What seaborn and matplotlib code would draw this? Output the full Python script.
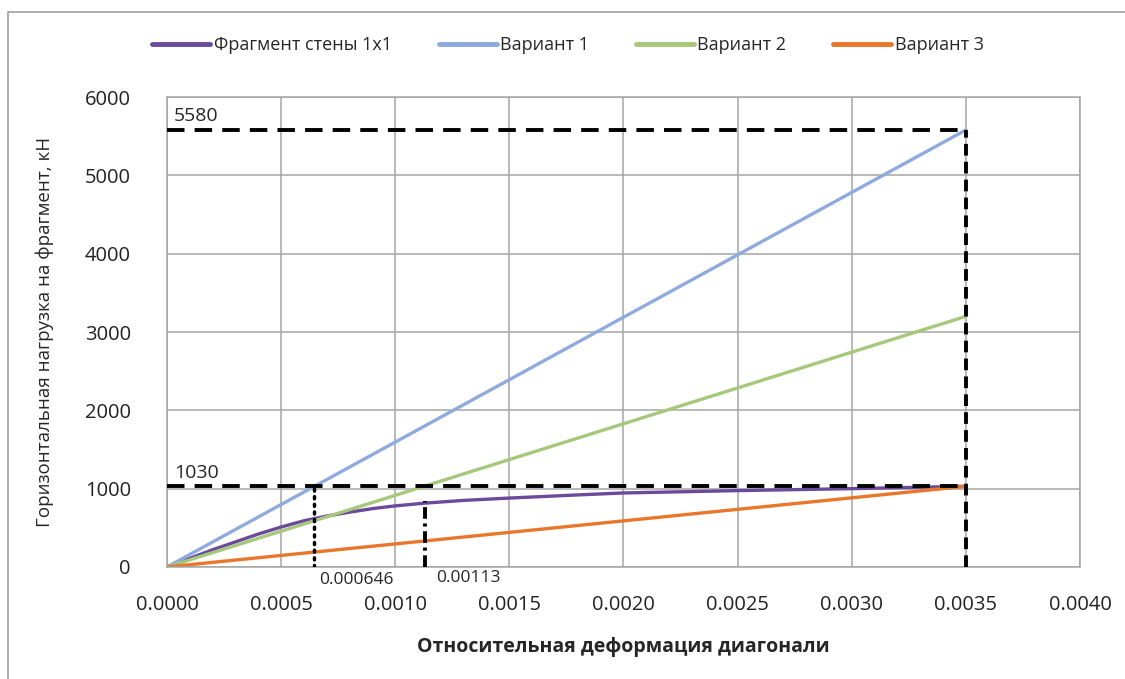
import numpy as np
import pandas as pd
import matplotlib
matplotlib.use("Agg")
import matplotlib.pyplot as plt
import seaborn as sns
from matplotlib.patches import Rectangle

# данные
strain_wall = [0.0, 0.0001, 0.0002, 0.0003, 0.0004, 0.0005, 0.0006, 0.0007, 0.0008,
               0.0009, 0.0010, 0.00113, 0.0013, 0.0015, 0.0018, 0.0020, 0.0025, 0.0030, 0.0035]
load_wall = [0, 110, 220, 320, 420, 510, 590, 650, 700,
             745, 780, 815, 850, 880, 920, 945, 975, 1000, 1030]
strain_var = [0.0, 0.0035]
load_var1 = [0, 5580]
load_var2 = [0, 3200]
load_var3 = [0, 1030]
names = ["Фрагмент стены 1x1", "Вариант 1", "Вариант 2", "Вариант 3"]
colors = ["#6B4A9B", "#8FAADC", "#A5C87A", "#E8762B"]

x_ticks = [0.0, 0.0005, 0.0010, 0.0015, 0.0020, 0.0025, 0.0030, 0.0035, 0.0040]
y_ticks = [0, 1000, 2000, 3000, 4000, 5000, 6000]
x_mark1 = 0.000646
x_mark2 = 0.00113
x_end = 0.0035
y_max_load = 5580
y_wall_load = 1030

frames = [pd.DataFrame({"x": strain_wall, "y": load_wall, "s": names[0]})]
for nm, ld in zip(names[1:], [load_var1, load_var2, load_var3]):
    frames.append(pd.DataFrame({"x": strain_var, "y": ld, "s": nm}))
df = pd.concat(frames, ignore_index=True)

sns.set_style("white")
plt.rcParams["font.family"] = ["Open Sans", "DejaVu Sans"]

fig = plt.figure(figsize=(11.25, 6.79), dpi=100)
ax = fig.add_axes([0.1484, 0.165, 0.8116, 0.692])

sns.lineplot(data=df, x="x", y="y", hue="s", hue_order=names, palette=colors,
             linewidth=2.4, ax=ax, sort=True, estimator=None)

# вспомогательные линии
ax.plot([0, x_end], [y_max_load, y_max_load], color="black", lw=2.8, ls=(0, (4.5, 2.6)), zorder=5)
ax.plot([x_end, x_end], [0, y_max_load], color="black", lw=2.8, ls=(0, (3, 1.6)), zorder=5)
ax.plot([0, x_end], [y_wall_load, y_wall_load], color="black", lw=2.8, ls=(0, (4.5, 2.6)), zorder=5)
ax.plot([x_mark1, x_mark1], [0, y_wall_load], color="black", lw=2.5, ls=(0, (0.6, 1.6)),
        dash_capstyle="round", zorder=5)
ax.plot([x_mark2, x_mark2], [0, 840], color="black", lw=2.8, ls=(0, (3, 1.2, 0.8, 1.2)), zorder=5)

ax.text(0.00003, y_max_load + 60, "5580", fontsize=14, ha="left", va="bottom")
ax.text(0.00003, y_wall_load + 60, "1030", fontsize=14, ha="left", va="bottom")
ax.text(x_mark1 + 0.00002, -70, "0.000646", fontsize=12.5, ha="left", va="top")
ax.text(x_mark2 + 0.00005, -40, "0.00113", fontsize=12.5, ha="left", va="top")

ax.set_xlim(0, 0.004)
ax.set_ylim(0, 6000)
ax.set_xticks(x_ticks)
ax.set_yticks(y_ticks)
ax.set_xticklabels([f"{v:.4f}" for v in x_ticks])
ax.tick_params(axis="x", labelsize=14.5, pad=20, length=0, labelcolor="#222222")
ax.tick_params(axis="y", labelsize=14.5, pad=26, length=0, labelcolor="#222222")
ax.grid(True, color="#A6A6A6", lw=1.1)
for sp in ax.spines.values():
    sp.set_color("#A6A6A6")
    sp.set_linewidth(1.1)

ax.set_xlabel("Относительная деформация диагонали", fontsize=14, fontweight="bold", labelpad=16)
ax.set_ylabel("Горизонтальная нагрузка на фрагмент, кН", fontsize=13.5, labelpad=22)

handles, labels = ax.get_legend_handles_labels()
ax.get_legend().remove()
for h in handles:
    h.set_linewidth(3.5)
fig.legend(handles, labels, loc="center", bbox_to_anchor=(0.505, 0.933), ncol=4,
           frameon=False, fontsize=13, handlelength=3.2, handletextpad=0.2, columnspacing=2.6)

fig.patches.append(Rectangle((8 / 1125, -0.1), 1.2, 1.082, transform=fig.transFigure,
                             fill=False, edgecolor="#A0A0A0", lw=1.2))

fig.savefig("out.png", dpi=100)
